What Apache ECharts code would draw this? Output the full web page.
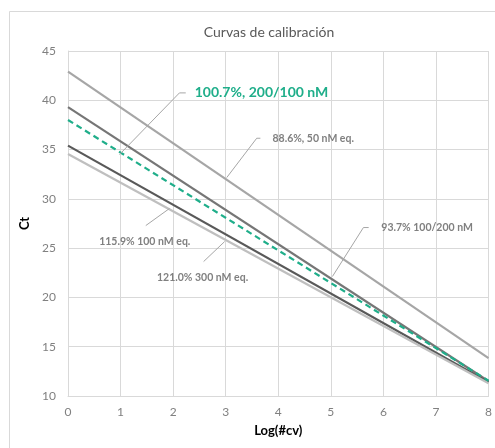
<!DOCTYPE html>
<html>
<head>
<meta charset="UTF-8">
<title>Curvas de calibración</title>
<script src="https://cdn.jsdelivr.net/npm/echarts@6/dist/echarts.min.js"></script>
<style>
  body { margin:0px; background:#fff; }
  #chart { width:495px; height:448px; }
</style>
</head>
<body>
<div id="chart"></div>
<script>
// datos: extremos de cada recta de calibración (log #cv, Ct)
var serie886 = [[0, 42.9], [8, 13.85]];
var serie937 = [[0, 39.3], [8, 11.5]];
var serie1007 = [[0, 38.0], [8, 11.55]];
var serie1159 = [[0, 35.4], [8, 11.4]];
var serie1210 = [[0, 34.55], [8, 11.3]];

var xTicks = [0, 1, 2, 3, 4, 5, 6, 7, 8];
var yTicks = [10, 15, 20, 25, 30, 35, 40, 45];

// etiquetas con línea guía (coordenadas en espacio de datos)
var etiquetas = [
  { text: '100.7%, 200/100 nM', guide: [[0.98, 34.5], [2.12, 40.75], [2.24, 40.75]], at: [2.41, 40.75], align: 'left', green: true },
  { text: '88.6%, 50 nM eq.', guide: [[3.02, 32.16], [3.59, 36.15], [3.66, 36.15]], at: [3.89, 36.15], align: 'left' },
  { text: '93.7% 100/200 nM', guide: [[5.03, 22.12], [5.62, 27.09], [5.72, 27.09]], at: [5.96, 27.09], align: 'left' },
  { text: '115.9% 100 nM eq.', guide: [[1.48, 27.29], [1.93, 29.02]], at: [1.46, 25.67], align: 'center' },
  { text: '121.0% 300 nM eq.', guide: [[2.58, 23.64], [2.98, 25.67]], at: [2.56, 22.02], align: 'center' }
];

var fuente = 'Lato, "Open Sans", sans-serif';

function linea(name, data, color, dashed) {
  return {
    name: name,
    type: 'line',
    data: data,
    showSymbol: false,
    silent: true,
    lineStyle: { color: color, width: 2.2, type: dashed ? [6, 4] : 'solid' },
    z: dashed ? 5 : 3
  };
}

var myChart = echarts.init(document.getElementById('chart'), null, { renderer: 'canvas' });
var option = {
  animation: false,
  backgroundColor: '#fff',
  title: {
    text: 'Curvas de calibración',
    left: 264, top: 20, textAlign: 'center',
    textStyle: { color: '#595959', fontSize: 14, fontWeight: 'normal', fontFamily: fuente }
  },
  grid: { left: 68, right: 5, top: 51, bottom: 52 },
  xAxis: {
    type: 'value', min: xTicks[0], max: xTicks[xTicks.length - 1], interval: 1,
    name: 'Log(#cv)', nameLocation: 'middle', nameGap: 28,
    nameTextStyle: { color: '#000', fontSize: 13, fontWeight: 'bold', fontFamily: fuente },
    axisLine: { show: true, lineStyle: { color: '#d9d9d9', width: 1 } },
    axisTick: { show: false },
    axisLabel: { color: '#808080', fontSize: 12, fontFamily: fuente, margin: 10 },
    splitLine: { show: true, lineStyle: { color: '#d9d9d9', width: 1 } }
  },
  yAxis: {
    type: 'value', min: yTicks[0], max: yTicks[yTicks.length - 1], interval: 5,
    name: 'Ct', nameLocation: 'middle', nameGap: 33, nameRotate: 90,
    nameTextStyle: { color: '#000', fontSize: 13, fontWeight: 'bold', fontFamily: fuente },
    axisLine: { show: true, lineStyle: { color: '#d9d9d9', width: 1 } },
    axisTick: { show: false },
    axisLabel: { color: '#808080', fontSize: 12, fontFamily: fuente, margin: 12 },
    splitLine: { show: true, lineStyle: { color: '#d9d9d9', width: 1 } }
  },
  series: [
    linea('88.6%', serie886, '#a6a6a6'),
    linea('93.7%', serie937, '#767676'),
    linea('115.9%', serie1159, '#595959'),
    linea('121.0%', serie1210, '#bfbfbf'),
    linea('100.7%', serie1007, '#1fae8a', true)
  ]
};
myChart.setOption(option);

// borde del área del gráfico y etiquetas
function dibujarEtiquetas() {
  var g = [{
    type: 'rect', shape: { x: 9.5, y: 11.5, width: 500, height: 450 },
    style: { fill: null, stroke: '#d9d9d9', lineWidth: 1 }, silent: true, z: -1
  }];
  etiquetas.forEach(function(e) {
    var pts = e.guide.map(function(p) { return myChart.convertToPixel({ gridIndex: 0 }, p); });
    g.push({
      type: 'polyline', shape: { points: pts },
      style: { stroke: '#a6a6a6', lineWidth: 1, fill: null }, silent: true, z: 10
    });
    var pos = myChart.convertToPixel({ gridIndex: 0 }, e.at);
    g.push({
      type: 'text', x: pos[0], y: pos[1], silent: true, z: 11,
      style: {
        text: e.text, align: e.align, verticalAlign: 'middle',
        fill: e.green ? '#1fae8a' : '#808080',
        font: (e.green ? 'bold 14px ' : 'bold 10.5px ') + fuente
      }
    });
  });
  myChart.setOption({ graphic: g });
}
dibujarEtiquetas();
</script>
</body>
</html>
